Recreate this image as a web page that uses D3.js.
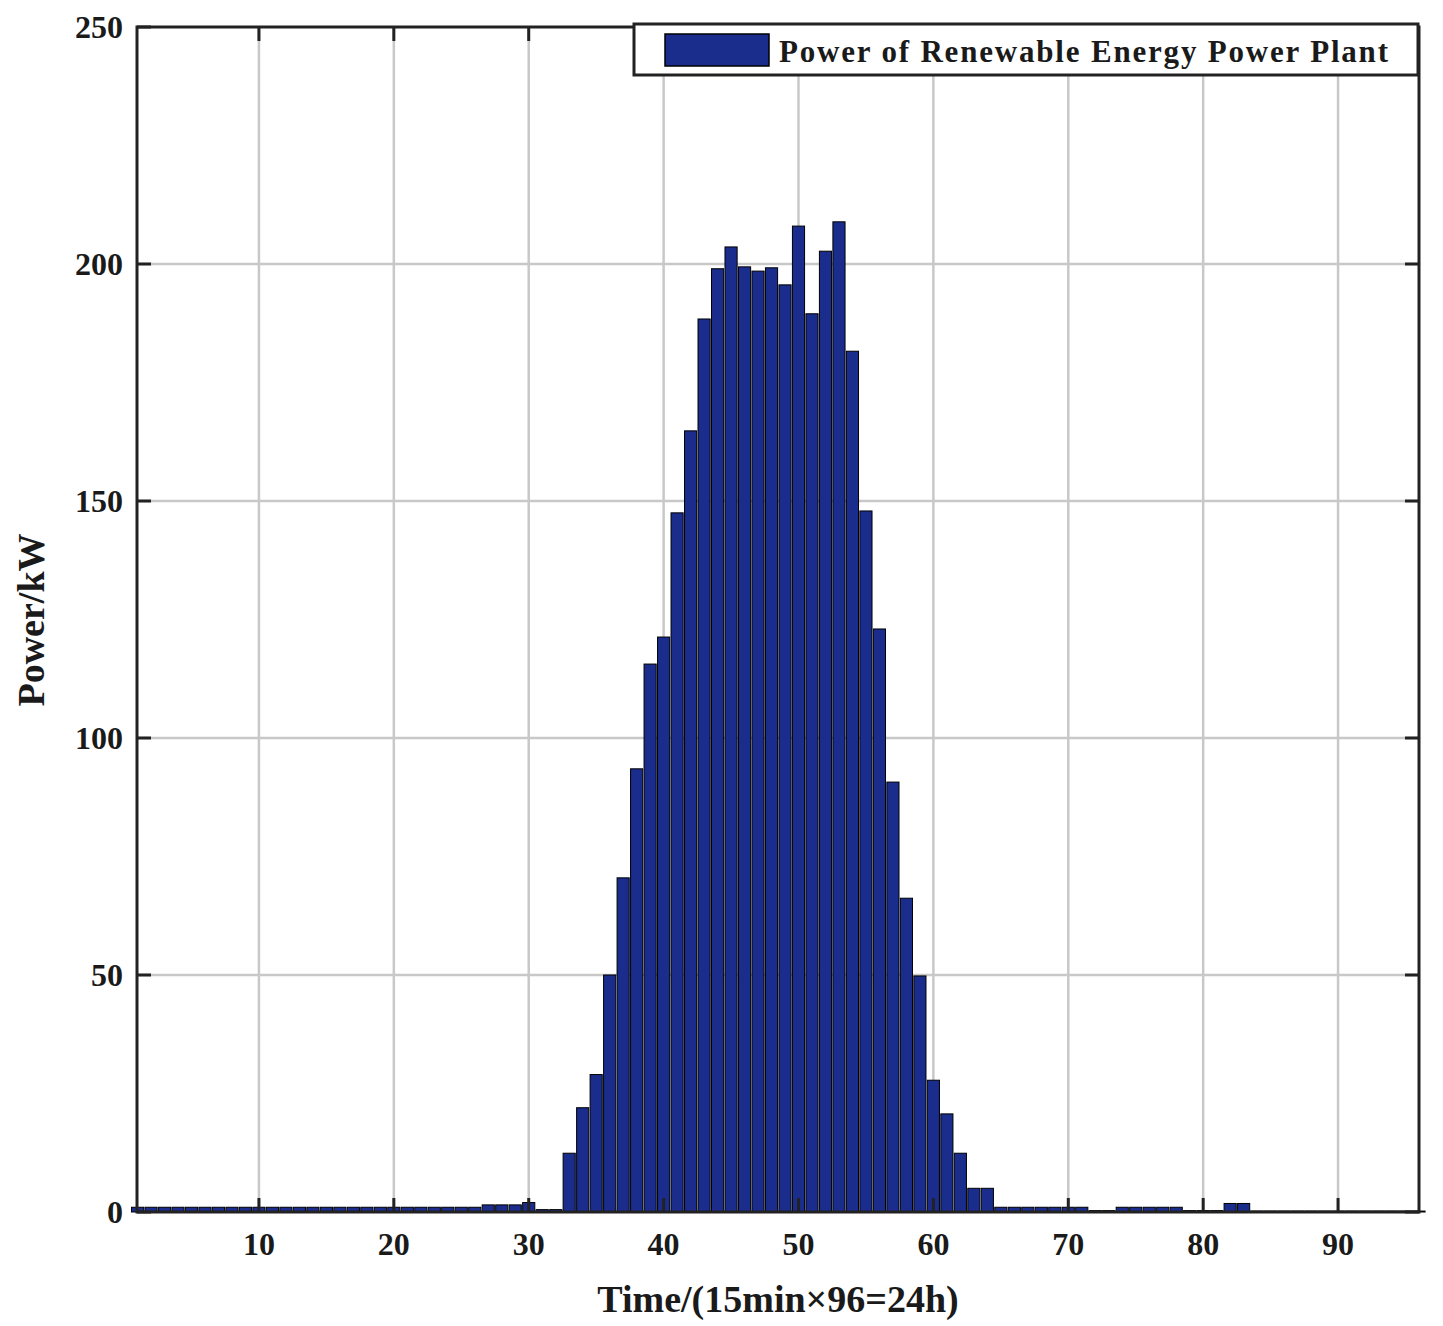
<!DOCTYPE html>
<html><head><meta charset="utf-8">
<script src="https://cdn.jsdelivr.net/npm/d3@7"></script>
<style>body{margin:0;background:#fff}</style></head>
<body><svg id="c" width="1443" height="1326"></svg>
<script>
const power=[1,1,1,1,1,1,1,1,1,1,1,1,1,1,1,1,1,1,1,1,1,1,1,1,1,1,1.5,1.5,1.5,2,0.5,0.5,
12.4,22,29,50,70.5,93.5,115.6,121.3,147.5,164.8,188.4,199,203.6,199.4,198.5,199.2,195.6,208,189.5,202.7,208.9,181.6,147.9,123,90.7,66.2,49.8,27.8,20.7,12.4,5,5,
1,1,1,1,1,1,1,0.3,0.3,1,1,1,1,1,0.3,0.3,0.3,1.8,1.8,0.2,0.2,0.2,0.2,0.2,0.2,0.2,0.2,0.2,0.2,0.2,0.2,0.2];
const xTicks=[10,20,30,40,50,60,70,80,90];
const yTicks=[0,50,100,150,200,250];
const seriesName="Power of Renewable Energy Power Plant";
const L=137,R=1419,T=27,B=1212;
const svg=d3.select("#c");
const x=d3.scaleLinear().domain([0.96,96.0]).range([L,R]);
const y=d3.scaleLinear().domain([0,250]).range([B,T]);
const font="'Liberation Serif','Times New Roman',serif";
const ink="#1a1a1a";
svg.append("g").selectAll("line").data(xTicks).join("line")
 .attr("x1",d=>x(d)).attr("x2",d=>x(d)).attr("y1",T).attr("y2",B)
 .attr("stroke","#c8c8c8").attr("stroke-width",2.5);
svg.append("g").selectAll("line").data(yTicks.slice(1,-1)).join("line")
 .attr("x1",L).attr("x2",R).attr("y1",d=>y(d)).attr("y2",d=>y(d))
 .attr("stroke","#c8c8c8").attr("stroke-width",2.5);
const bw=(x(2)-x(1))*0.9;
svg.append("g").selectAll("rect").data(power).join("rect")
 .attr("x",(d,i)=>x(i+1)-bw/2).attr("width",bw)
 .attr("y",d=>y(d)).attr("height",d=>B-y(d))
 .attr("fill","#1a2c8c").attr("stroke","#000").attr("stroke-width",1);
svg.append("rect").attr("x",L).attr("y",T).attr("width",R-L).attr("height",B-T)
 .attr("fill","none").attr("stroke","#222").attr("stroke-width",3);
const g=svg.append("g");
yTicks.forEach(t=>{
 g.append("line").attr("x1",L).attr("x2",L+14).attr("y1",y(t)).attr("y2",y(t)).attr("stroke","#222").attr("stroke-width",3);
 g.append("line").attr("x1",R).attr("x2",R-14).attr("y1",y(t)).attr("y2",y(t)).attr("stroke","#222").attr("stroke-width",3);
 g.append("text").attr("x",L-14).attr("y",y(t)+11).attr("text-anchor","end")
  .attr("font-family",font).attr("font-weight","bold").attr("font-size",32).attr("fill",ink).text(t);
});
xTicks.forEach(t=>{
 g.append("line").attr("x1",x(t)).attr("x2",x(t)).attr("y1",B).attr("y2",B-14).attr("stroke","#222").attr("stroke-width",3);
 g.append("line").attr("x1",x(t)).attr("x2",x(t)).attr("y1",T).attr("y2",T+14).attr("stroke","#222").attr("stroke-width",3);
 g.append("text").attr("x",x(t)).attr("y",B+43).attr("text-anchor","middle")
  .attr("font-family",font).attr("font-weight","bold").attr("font-size",32).attr("fill",ink).text(t);
});
svg.append("text").attr("x",778).attr("y",1312).attr("text-anchor","middle")
 .attr("font-family",font).attr("font-weight","bold").attr("font-size",38).attr("fill",ink)
 .text("Time/(15min×96=24h)");
svg.append("text").attr("transform",`translate(44,620) rotate(-90)`).attr("text-anchor","middle")
 .attr("font-family",font).attr("font-weight","bold").attr("font-size",38).attr("fill",ink)
 .text("Power/kW");
svg.append("rect").attr("x",634).attr("y",24).attr("width",784).attr("height",51)
 .attr("fill","#fff").attr("stroke","#222").attr("stroke-width",3);
svg.append("rect").attr("x",665).attr("y",34).attr("width",104).attr("height",32)
 .attr("fill","#1a2c8c").attr("stroke","#000").attr("stroke-width",1.5);
svg.append("text").attr("x",779).attr("y",62).attr("font-family",font).attr("font-weight","bold")
 .attr("font-size",31).attr("fill",ink).attr("textLength",609).attr("lengthAdjust","spacing").text(seriesName);
</script></body></html>
